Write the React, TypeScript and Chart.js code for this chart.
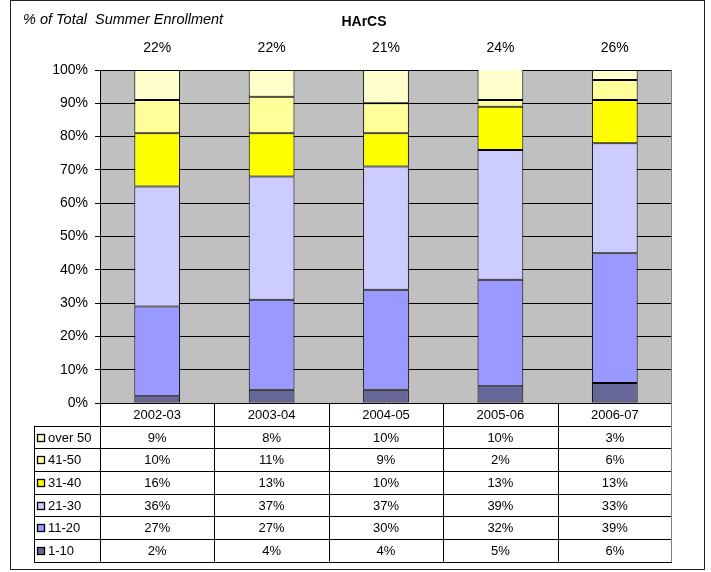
import { useEffect, useRef } from 'react';
import { Chart, registerables } from 'chart.js';

Chart.register(...registerables);

// ---- data ----
const categories = ['2002-03', '2003-04', '2004-05', '2005-06', '2006-07'];
const seriesNames = ['1-10', '11-20', '21-30', '31-40', '41-50', 'over 50'];
const values1to10 = [2, 4, 4, 5, 6];
const values11to20 = [27, 27, 30, 32, 39];
const values21to30 = [36, 37, 37, 39, 33];
const values31to40 = [16, 13, 10, 13, 13];
const values41to50 = [10, 11, 9, 2, 6];
const valuesOver50 = [9, 8, 10, 10, 3];
const shareOfTotal = [22, 22, 21, 24, 26];
const yTickValues = [0, 10, 20, 30, 40, 50, 60, 70, 80, 90, 100];

const seriesColors = ['#666699', '#9999FF', '#CCCCFF', '#FFFF00', '#FFFF99', '#FFFFCC'];
const FONT = '"Liberation Sans", Arial, Helvetica, sans-serif';

export default function App() {
  const ref = useRef<HTMLCanvasElement>(null);

  useEffect(() => {
    document.body.style.margin = '0';
    const canvas = ref.current!;
    const seriesValues = [values1to10, values11to20, values21to30, values31to40, values41to50, valuesOver50];

    const decor = {
      id: 'decor',
      beforeDraw(chart: any) {
        const { ctx, chartArea: a } = chart;
        ctx.save();
        ctx.fillStyle = '#FFFFFF';
        ctx.fillRect(0, 0, chart.width, chart.height);
        ctx.fillStyle = '#C0C0C0';
        ctx.fillRect(a.left, a.top, a.right - a.left, a.bottom - a.top);
        ctx.restore();
      },
      afterDraw(chart: any) {
        const { ctx, chartArea: a } = chart;
        const xs = chart.scales.x;
        const n = categories.length;
        const colW = (a.right - a.left) / n;
        ctx.save();

        // outer border
        ctx.strokeStyle = '#222';
        ctx.lineWidth = 1;
        ctx.strokeRect(10.5, 0.5, 694, 569);

        // titles
        ctx.fillStyle = '#000';
        ctx.textBaseline = 'middle';
        ctx.textAlign = 'left';
        ctx.font = `italic 14.5px ${FONT}`;
        ctx.fillText('% of Total  Summer Enrollment', 23, 20);
        ctx.textAlign = 'center';
        ctx.font = `bold 14px ${FONT}`;
        ctx.fillText('HArCS', 364, 22);

        // top share labels
        ctx.font = `14px ${FONT}`;
        shareOfTotal.forEach((v, i) => {
          ctx.fillText(`${v}%`, xs.getPixelForValue(i), 48);
        });

        // table geometry
        const headTop = a.bottom;
        const headBot = 425.7;
        const rowH = 22.67;
        const nRows = seriesNames.length;
        const tableBot = headBot + rowH * nRows;
        const legLeft = 34;

        ctx.strokeStyle = '#000';
        ctx.lineWidth = 1;
        ctx.beginPath();
        for (let i = 0; i < n; i++) {
          const x = Math.round(a.left + i * colW) + 0.5;
          ctx.moveTo(x, headTop);
          ctx.lineTo(x, tableBot);
        }
        ctx.moveTo(legLeft + 0.5, headBot);
        ctx.lineTo(legLeft + 0.5, tableBot);
        for (let r = 0; r <= nRows; r++) {
          const y = Math.round(headBot + r * rowH) + 0.5;
          ctx.moveTo(legLeft, y);
          ctx.lineTo(a.right, y);
        }
        ctx.stroke();

        // right gray edge
        ctx.strokeStyle = '#808080';
        ctx.beginPath();
        ctx.moveTo(Math.round(a.right) - 0.5, a.top);
        ctx.lineTo(Math.round(a.right) - 0.5, tableBot);
        ctx.stroke();

        // header texts
        ctx.fillStyle = '#000';
        ctx.font = `13px ${FONT}`;
        ctx.textAlign = 'center';
        categories.forEach((c, i) => {
          ctx.fillText(c, a.left + (i + 0.5) * colW, (headTop + headBot) / 2 + 1);
        });

        for (let r = 0; r < nRows; r++) {
          const si = nRows - 1 - r;
          const cy = headBot + (r + 0.5) * rowH + 1;
          const by = Math.round(cy - 4.5);
          ctx.fillStyle = seriesColors[si];
          ctx.fillRect(37, by, 8, 8);
          ctx.strokeStyle = '#000';
          ctx.lineWidth = 1.3;
          ctx.strokeRect(37.5, by + 0.5, 7, 7);
          ctx.lineWidth = 1;
          ctx.fillStyle = '#000';
          ctx.textAlign = 'left';
          ctx.fillText(seriesNames[si], 48, cy);
          ctx.textAlign = 'center';
          seriesValues[si].forEach((v, i) => {
            ctx.fillText(`${v}%`, a.left + (i + 0.5) * colW, cy);
          });
        }
        ctx.restore();
      },
    };

    const chart = new Chart(canvas, {
      type: 'bar',
      data: {
        labels: categories,
        datasets: seriesNames.map((name, i) => ({
          label: name,
          data: seriesValues[i],
          backgroundColor: seriesColors[i],
          borderColor: '#000',
          borderWidth: 1,
          borderSkipped: false,
          barPercentage: 0.4,
          categoryPercentage: 1.0,
        })),
      },
      options: {
        responsive: false,
        animation: false,
        devicePixelRatio: 1,
        layout: { padding: { top: 70, right: 39, bottom: 169, left: 0 } },
        plugins: {
          legend: { display: false },
          title: { display: false },
          tooltip: { enabled: false },
        },
        scales: {
          x: {
            stacked: true,
            display: false,
          },
          y: {
            stacked: true,
            min: 0,
            max: 100,
            afterFit(scale: any) {
              scale.width = 100;
            },
            afterBuildTicks(scale: any) {
              scale.ticks = yTickValues.map((v) => ({ value: v }));
            },
            ticks: {
              color: '#000',
              font: { family: FONT, size: 14 },
              padding: 7,
              callback: (v: any) => `${v}%`,
            },
            grid: {
              color: '#000',
              lineWidth: 1,
              tickLength: 5,
              drawTicks: true,
            },
            border: { display: true, color: '#000', width: 1 },
          },
        },
      },
      plugins: [decor],
    } as any);

    return () => chart.destroy();
  }, []);

  return (
    <div style={{ width: 711, height: 572 }}>
      <canvas ref={ref} width={711} height={572} style={{ display: 'block' }} />
    </div>
  );
}
